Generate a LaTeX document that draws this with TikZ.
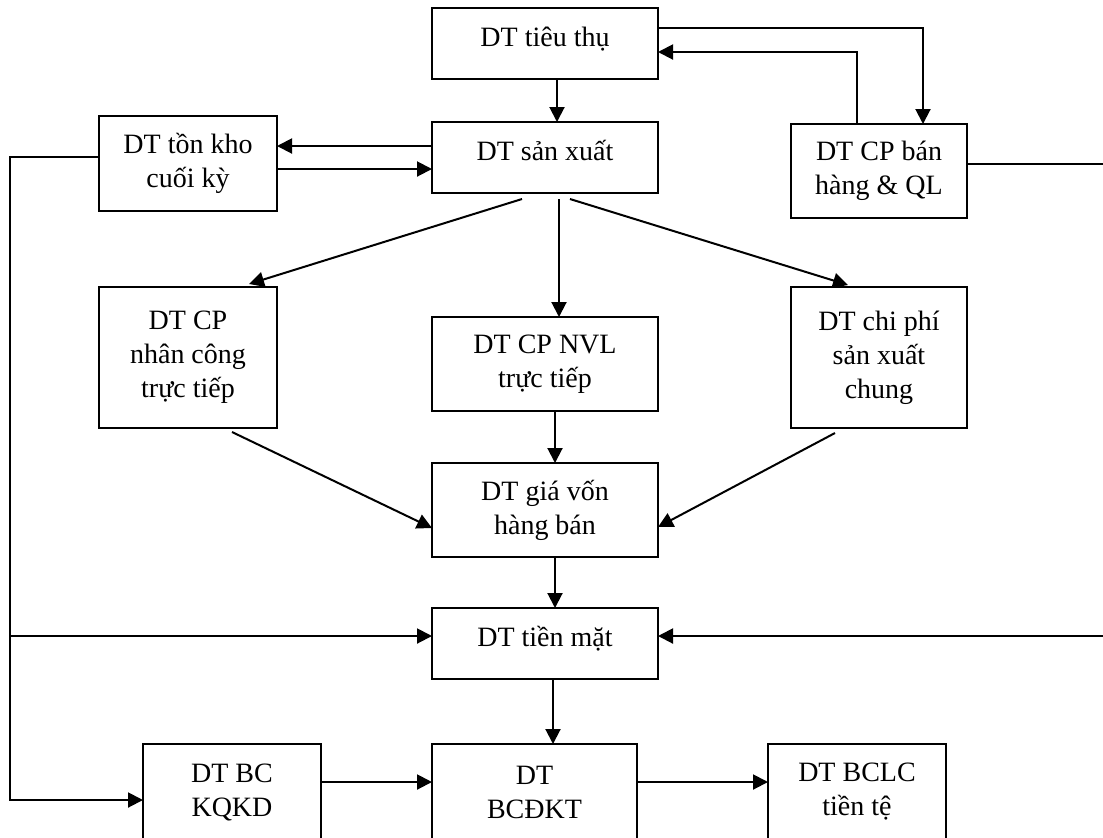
\documentclass[tikz,border=0pt]{standalone}
\usepackage{fontspec}
\setmainfont{Liberation Serif}
\usetikzlibrary{arrows.meta}
\tikzset{
  box/.style={draw, line width=1pt, inner sep=0pt, outer sep=0pt, align=center,
    font=\fontsize{14}{17}\selectfont},
  oneline/.style={text height=9pt, text depth=6pt},
  openbox/.style={box, draw=none},
  link/.style={line width=1pt},
  arr/.style={link, -{Triangle[length=7.5pt, width=7.5pt]}}
}
\begin{document}
\begin{tikzpicture}[x=0.5pt, y=-0.5pt]
  \useasboundingbox (0,0) rectangle (1103,837);
  \clip (0,0) rectangle (1103,837);

  % boxes (centre, width, height in pixel units)
  \node[box, oneline, minimum width=113pt, minimum height=35.5pt] (tt)  at (545,43.5) {DT tiêu thụ};
  \node[box, oneline, minimum width=113pt, minimum height=35.5pt] (sx)  at (545,157.5) {DT sản xuất};
  \node[box, minimum width=89pt,  minimum height=47.5pt] (tk)  at (188,163.5) {DT tồn kho\\cuối kỳ};
  \node[box, minimum width=88pt,  minimum height=47pt]   (bh)  at (879,171) {DT CP bán\\hàng \& QL};
  \node[box, minimum width=89pt,  minimum height=70.5pt] (nc)  at (188,357.5) {DT CP\\nhân công\\trực tiếp};
  \node[box, minimum width=113pt, minimum height=47pt]   (nvl) at (545,364) {DT CP NVL\\trực tiếp};
  \node[box, minimum width=88pt,  minimum height=70.5pt] (sxc) at (879,357.5) {DT chi phí\\sản xuất\\chung};
  \node[box, minimum width=113pt, minimum height=47pt]   (gv)  at (545,510) {DT giá vốn\\hàng bán};
  \node[box, oneline, minimum width=113pt, minimum height=35.5pt] (tm)  at (545,643.5) {DT tiền mặt};

  % report boxes running off the lower edge
  \node[openbox, minimum width=89pt,   minimum height=48pt] (kqkd) at (232,792) {DT BC\\KQKD};
  \node[openbox, minimum width=102.5pt, minimum height=48pt] (dkt)  at (534.5,792) {DT\\BCĐKT};
  \node[openbox, minimum width=89pt,   minimum height=48pt] (bclc) at (857,792) {DT BCLC\\tiền tệ};
  \foreach \n in {kqkd,dkt,bclc}
    \draw[link] ([yshift=-10pt]\n.south west) -- (\n.north west) -- (\n.north east) -- ([yshift=-10pt]\n.south east);

  % horizontal levels
  \coordinate (h28)  at (0,28);
  \coordinate (h52)  at (0,52);
  \coordinate (h146) at (0,146);
  \coordinate (h157) at (0,157);
  \coordinate (h164) at (0,164);
  \coordinate (h169) at (0,169);
  \coordinate (h636) at (0,636);
  \coordinate (h800) at (0,800);
  \coordinate (h782) at (0,782);
  \coordinate (leftbus) at (10,0);
  \coordinate (rightedge) at (1110,0);

  % sales budget and production budget
  \draw[arr] ([xshift=6pt]tt.south) -- ([xshift=6pt]sx.north);
  \draw[arr] (tt.east |- h28) -| ([xshift=22pt]bh.north);
  \draw[arr] ([xshift=-11pt]bh.north) |- (tt.east |- h52);
  \draw[arr] (sx.west |- h146) -- (tk.east |- h146);
  \draw[arr] (tk.east |- h169) -- (sx.west |- h169);

  % production budget into the cost budgets
  \draw[arr] ([shift={(-23,6)}]sx.south) -- ([shift={(61,-3)}]nc.north);
  \draw[arr] ([shift={(14,6)}]sx.south) -- ([shift={(14,0)}]nvl.north);
  \draw[arr] ([shift={(25,6)}]sx.south) -- ([shift={(-31,-2)}]sxc.north);

  % cost budgets into cost of goods sold
  \draw[arr] ([shift={(44,4)}]nc.south) -- ([shift={(0,18)}]gv.west);
  \draw[arr] ([shift={(-44,5)}]sxc.south) -- ([shift={(0,17)}]gv.east);
  \draw[arr] ([xshift=5pt]nvl.south) -- ([xshift=5pt]gv.north);
  \draw[arr] ([xshift=5pt]gv.south) -- ([xshift=5pt]tm.north);

  % cash budget and reports
  \draw[arr] ([xshift=4pt]tm.south) -- ([xshift=9.25pt]dkt.north);
  \draw[link] (bh.east |- h164) -- (rightedge |- h164);
  \draw[arr] (rightedge |- h636) -- (tm.east |- h636);
  \draw[arr] (tk.west |- h157) -- (leftbus |- h157) -- (leftbus |- h800) -- (kqkd.west |- h800);
  \draw[arr] (leftbus |- h636) -- (tm.west |- h636);
  \draw[arr] (kqkd.east |- h782) -- (dkt.west |- h782);
  \draw[arr] (dkt.east |- h782) -- (bclc.west |- h782);
\end{tikzpicture}
\end{document}
